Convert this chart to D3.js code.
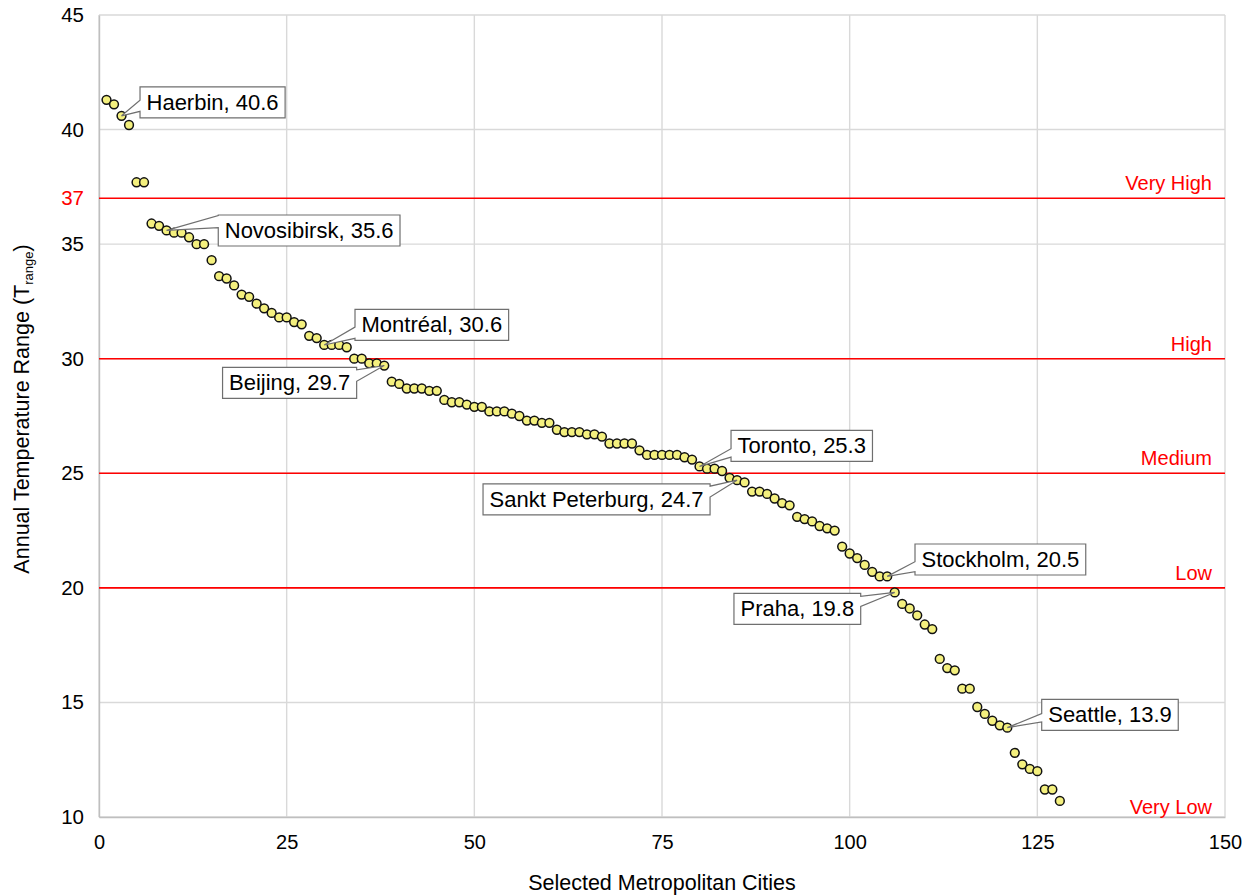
<!DOCTYPE html>
<html>
<head>
<meta charset="utf-8">
<script src="https://cdn.jsdelivr.net/npm/d3@7"></script>
<style>
  body { margin: 0; background: #fff; }
  svg { display: block; font-family: "Liberation Sans", Arial, sans-serif; }
</style>
</head>
<body>
<svg id="chart" width="1252" height="896"></svg>
<script>
// Annual temperature range of selected metropolitan cities, sorted from largest to smallest
const temperatureRange = [
  41.3, 41.1, 40.6, 40.2, 37.7, 37.7, 35.9, 35.8, 35.6, 35.5,
  35.5, 35.3, 35.0, 35.0, 34.3, 33.6, 33.5, 33.2, 32.8, 32.7,
  32.4, 32.2, 32.0, 31.8, 31.8, 31.6, 31.5, 31.0, 30.9, 30.6,
  30.6, 30.6, 30.5, 30.0, 30.0, 29.8, 29.8, 29.7, 29.0, 28.9,
  28.7, 28.7, 28.7, 28.6, 28.6, 28.2, 28.1, 28.1, 28.0, 27.9,
  27.9, 27.7, 27.7, 27.7, 27.6, 27.5, 27.3, 27.3, 27.2, 27.2,
  26.9, 26.8, 26.8, 26.8, 26.7, 26.7, 26.6, 26.3, 26.3, 26.3,
  26.3, 26.0, 25.8, 25.8, 25.8, 25.8, 25.8, 25.7, 25.6, 25.3,
  25.2, 25.2, 25.1, 24.8, 24.7, 24.6, 24.2, 24.2, 24.1, 23.9,
  23.7, 23.6, 23.1, 23.0, 22.9, 22.7, 22.6, 22.5, 21.8, 21.5,
  21.3, 21.0, 20.7, 20.5, 20.5, 19.8, 19.3, 19.1, 18.8, 18.4,
  18.2, 16.9, 16.5, 16.4, 15.6, 15.6, 14.8, 14.5, 14.2, 14.0,
  13.9, 12.8, 12.3, 12.1, 12.0, 11.2, 11.2, 10.7
];

// Named cities and their rank in the sorted list
const labelledCities = ["Haerbin", "Novosibirsk", "Montréal", "Beijing", "Toronto",
                        "Sankt Peterburg", "Stockholm", "Praha", "Seattle"];
const labelledRanks = [3, 9, 30, 38, 80, 85, 105, 106, 121];

// Classification thresholds
const classNames = ["Very High", "High", "Medium", "Low", "Very Low"];
const classBounds = [37, 30, 25, 20, 10];

const yTicks = [10, 15, 20, 25, 30, 35, 40, 45];
const xTicks = [0, 25, 50, 75, 100, 125, 150];

// Callout placement relative to the point (pixels) and wedge base as a fraction of the box height
const calloutLayout = {
  "Haerbin":         { side: "left",  dx: 18.5, dy: -29,   base: [0.43, 0.79] },
  "Novosibirsk":     { side: "left",  dx: 51.7, dy: -15.4, base: [0.02, 0.41] },
  "Montréal":        { side: "left",  dx: 30.8, dy: -35.5, base: [0.57, 0.93] },
  "Beijing":         { side: "right", dx: -27.6, dy: 1.7,  base: [0.08, 0.45] },
  "Toronto":         { side: "left",  dx: 31.5, dy: -36,   base: [0.59, 0.86] },
  "Sankt Peterburg": { side: "right", dx: -27,  dy: 3.8,   base: [0.07, 0.42] },
  "Stockholm":       { side: "left",  dx: 27.8, dy: -32.4, base: [0.57, 0.89] },
  "Praha":           { side: "right", dx: -34,  dy: 0.9,   base: [0.10, 0.42] },
  "Seattle":         { side: "left",  dx: 34.4, dy: -28.3, base: [0.46, 0.73] }
};

const svg = d3.select("#chart");
const plot = { left: 99, right: 1225, top: 15, bottom: 817 };

const x = d3.scaleLinear().domain([0, 150]).range([plot.left, plot.right]);
const y = d3.scaleLinear().domain([10, 45]).range([plot.bottom, plot.top]);

const gridColor = "#d9d9d9";
const red = "#ff0000";
const fontFamily = "'Liberation Sans', Arial, sans-serif";

// Gridlines
const grid = svg.append("g");
grid.selectAll("line.v").data(xTicks).join("line")
  .attr("x1", d => x(d)).attr("x2", d => x(d))
  .attr("y1", plot.top).attr("y2", plot.bottom)
  .attr("stroke", gridColor).attr("stroke-width", 1.4);
grid.selectAll("line.h").data(yTicks).join("line")
  .attr("x1", plot.left).attr("x2", plot.right)
  .attr("y1", d => y(d)).attr("y2", d => y(d))
  .attr("stroke", gridColor).attr("stroke-width", 1.4);

// Axes: labels only, no tick marks
const xAxis = d3.axisBottom(x).tickValues(xTicks).tickSize(0).tickPadding(18);
const gx = svg.append("g").attr("transform", `translate(0,${plot.bottom})`).call(xAxis);
gx.select(".domain").attr("stroke", "#bfbfbf").attr("stroke-width", 1.4);
gx.selectAll("text").attr("font-size", 20).attr("fill", "#000")
  .attr("font-family", fontFamily);

const yAxis = d3.axisLeft(y).tickValues(yTicks.concat([classBounds[0]])).tickSize(0).tickPadding(15);
const gy = svg.append("g").attr("transform", `translate(${plot.left},0)`).call(yAxis);
gy.select(".domain").attr("stroke", "#bfbfbf").attr("stroke-width", 1.4);
gy.selectAll("text").attr("font-size", 20.5)
  .attr("font-family", fontFamily)
  .attr("fill", d => d === classBounds[0] ? red : "#000");

// Threshold lines and class labels
const classes = classNames.map((name, i) => ({ name, bound: classBounds[i] }));
svg.append("g").selectAll("line").data(classes.filter(c => c.bound > y.domain()[0])).join("line")
  .attr("x1", plot.left).attr("x2", plot.right)
  .attr("y1", d => y(d.bound)).attr("y2", d => y(d.bound))
  .attr("stroke", red).attr("stroke-width", 1.6);
svg.append("g").selectAll("text").data(classes).join("text")
  .attr("x", plot.right - 13)
  .attr("y", d => y(d.bound) - (d.bound > y.domain()[0] ? 8 : 3))
  .attr("text-anchor", "end")
  .attr("font-size", 20)
  .attr("fill", red)
  .text(d => d.name);

// Data points
const points = temperatureRange.map((v, i) => ({ rank: i + 1, value: v }));
svg.append("g").selectAll("circle").data(points).join("circle")
  .attr("cx", d => x(d.rank))
  .attr("cy", d => y(d.value))
  .attr("r", 4.4)
  .attr("fill", "#f4f07e")
  .attr("stroke", "#111")
  .attr("stroke-width", 1.5);

// Callouts
const boxH = 31, padX = 6.5;
const callouts = svg.append("g");
labelledCities.forEach((city, i) => {
  const rank = labelledRanks[i];
  const value = temperatureRange[rank - 1];
  const lay = calloutLayout[city];
  const tx = x(rank), ty = y(value);
  const g = callouts.append("g");
  const path = g.append("path");
  const label = g.append("text")
    .attr("font-size", 22)
    .attr("fill", "#000")
    .text(`${city}, ${value.toFixed(1)}`);
  const w = label.node().getComputedTextLength() + 2 * padX;
  const top = ty + lay.dy;
  const x0 = lay.side === "left" ? tx + lay.dx : tx + lay.dx - w;
  const x1 = x0 + w, y1 = top + boxH;
  const b1 = top + lay.base[0] * boxH, b2 = top + lay.base[1] * boxH;
  let d;
  if (lay.side === "left") {
    d = `M${x0},${top}H${x1}V${y1}H${x0}V${b2}L${tx},${ty}L${x0},${b1}Z`;
  } else {
    d = `M${x0},${top}H${x1}V${b1}L${tx},${ty}L${x1},${b2}V${y1}H${x0}Z`;
  }
  path.attr("d", d).attr("fill", "#fff").attr("stroke", "#6f6f6f").attr("stroke-width", 1.2);
  label.attr("x", x0 + padX).attr("y", top + 23);
});

// Axis titles
svg.append("text")
  .attr("x", (plot.left + plot.right) / 2)
  .attr("y", 890)
  .attr("text-anchor", "middle")
  .attr("font-size", 21.5)
  .text("Selected Metropolitan Cities");

const yTitle = svg.append("text")
  .attr("transform", `translate(29,${(plot.top + plot.bottom) / 2 - 7}) rotate(-90)`)
  .attr("text-anchor", "middle")
  .attr("font-size", 21.5);
yTitle.append("tspan").text("Annual Temperature Range (T");
yTitle.append("tspan").attr("font-size", 13).attr("dy", 4).text("range");
yTitle.append("tspan").attr("dy", -4).text(")");
</script>
</body>
</html>
